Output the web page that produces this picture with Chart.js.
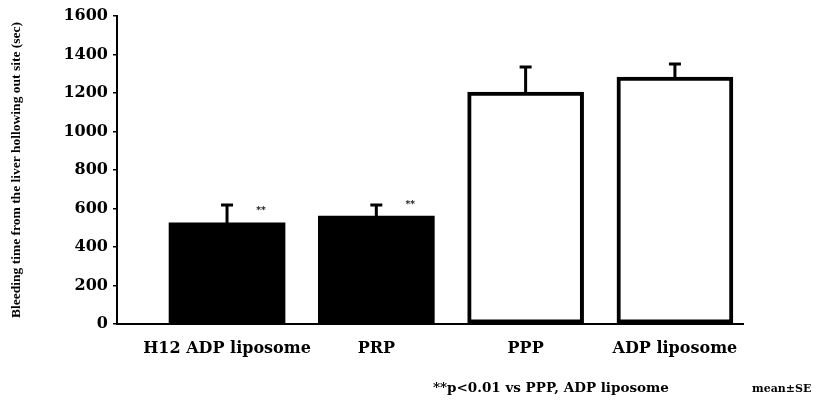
<!DOCTYPE html>
<html><head><meta charset="utf-8">
<script src="https://cdn.jsdelivr.net/npm/chart.js@4"></script>
<style>html,body{margin:0;padding:0;background:#fff}#wrap{position:relative;width:818px;height:403px}</style>
</head><body><div id="wrap"><canvas id="c" width="818" height="403"></canvas></div>
<script>
const categories = ['H12 ADP liposome', 'PRP', 'PPP', 'ADP liposome'];
const meanValues = [525, 560, 1205, 1283];
const seValues = [93, 58, 130, 68];
const significance = ['**', '**', '', ''];
const barFills = ['#000000', '#000000', '#ffffff', '#ffffff'];
const yTickValues = [0, 200, 400, 600, 800, 1000, 1200, 1400, 1600];
const yTitle = 'Bleeding time from the liver hollowing out site (sec)';
const footnote = '**p<0.01 vs PPP, ADP liposome';
const footnoteRight = 'mean\u00b1SE';

const extras = {
  id: 'extras',
  afterDatasetsDraw(chart) {
    const ctx = chart.ctx, xs = chart.scales.x, ys = chart.scales.y;
    ctx.save();
    ctx.strokeStyle = '#000';
    ctx.lineWidth = 3;
    ctx.lineCap = 'butt';
    meanValues.forEach((m, i) => {
      const x = xs.getPixelForValue(i);
      const yb = ys.getPixelForValue(m);
      const yt = ys.getPixelForValue(m + seValues[i]);
      ctx.beginPath();
      ctx.moveTo(x, yb); ctx.lineTo(x, yt);
      ctx.moveTo(x - 6, yt); ctx.lineTo(x + 6, yt);
      ctx.stroke();
      if (significance[i]) {
        ctx.fillStyle = '#000';
        ctx.font = 'bold 9px "DejaVu Serif"';
        ctx.textAlign = 'center';
        ctx.textBaseline = 'middle';
        ctx.fillText(significance[i], x + 34, yb - 12);
      }
    });
    ctx.restore();
  },
  afterDraw(chart) {
    const ctx = chart.ctx;
    ctx.save();
    ctx.fillStyle = '#000';
    ctx.textAlign = 'left';
    ctx.textBaseline = 'alphabetic';
    ctx.font = 'bold 13.5px "DejaVu Serif"';
    ctx.fillText(footnote, 433, 392);
    ctx.font = 'bold 11px "DejaVu Serif"';
    ctx.fillText(footnoteRight, 752, 392);
    ctx.restore();
  }
};

new Chart(document.getElementById('c'), {
  type: 'bar',
  data: {
    datasets: [{
      data: categories.map((c, i) => ({ x: i, y: meanValues[i] })),
      backgroundColor: barFills,
      borderColor: '#000',
      borderWidth: [0, 0, 4, 4],
      borderSkipped: false,
      barThickness: 116
    }]
  },
  options: {
    responsive: false,
    animation: false,
    devicePixelRatio: 1,
    layout: { padding: { top: 16, right: 75, left: 0, bottom: 0 } },
    plugins: { legend: { display: false }, tooltip: { enabled: false } },
    scales: {
      x: {
        type: 'linear',
        min: -0.737,
        max: 3.456,
        offset: false,
        afterBuildTicks: s => { s.ticks = categories.map((c, i) => ({ value: i })); },
        afterFit: s => { s.height = 79; },
        grid: { display: false },
        border: { display: true, color: '#000', width: 2 },
        ticks: {
          autoSkip: false, maxRotation: 0, padding: 7, color: '#000',
          font: { family: 'DejaVu Serif', weight: 'bold', size: 16 },
          callback: v => categories[v]
        }
      },
      y: {
        min: 0, max: 1600,
        afterBuildTicks: s => { s.ticks = yTickValues.map(v => ({ value: v })); },
        afterFit: s => { s.width = 117; },
        grid: { drawOnChartArea: false, drawTicks: true, tickLength: 4, color: '#000', lineWidth: 1.5 },
        border: { display: true, color: '#000', width: 2 },
        ticks: {
          padding: 5, color: '#000',
          font: { family: 'DejaVu Serif', weight: 'bold', size: 16 },
          callback: v => String(v)
        },
        title: {
          display: true, text: yTitle, color: '#000',
          padding: { top: 8, bottom: 0 },
          font: { family: 'Liberation Serif', weight: 'bold', size: 13.5 }
        }
      }
    }
  },
  plugins: [extras]
});
</script></body></html>
